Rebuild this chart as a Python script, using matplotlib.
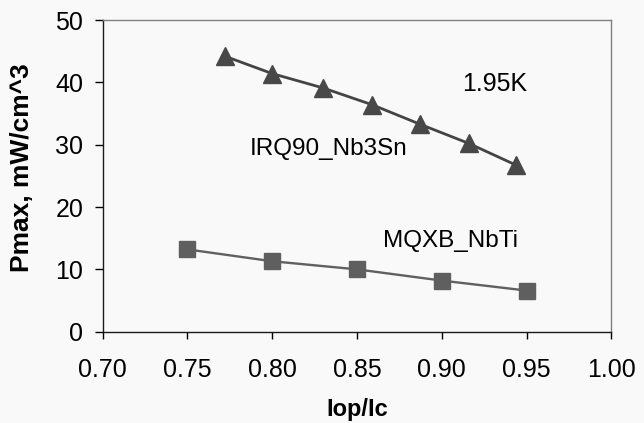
import matplotlib
matplotlib.use("Agg")
import matplotlib.pyplot as plt

plt.rcParams['font.family'] = ['Liberation Sans', 'DejaVu Sans']

irq_x = [0.772, 0.800, 0.830, 0.859, 0.887, 0.916, 0.944]
irq_y = [44.2, 41.4, 39.1, 36.4, 33.3, 30.2, 26.7]
mqxb_x = [0.75, 0.80, 0.85, 0.90, 0.95]
mqxb_y = [13.2, 11.3, 10.0, 8.2, 6.6]
xticks = [0.70, 0.75, 0.80, 0.85, 0.90, 0.95, 1.00]
yticks = [0, 10, 20, 30, 40, 50]

bg = '#f9f9f9'
L, R, T, B = 102.7, 611.3, 20.0, 331.7
fig = plt.figure(figsize=(6.44, 4.23), dpi=100, facecolor=bg)
ax = fig.add_axes([L/644, 1 - B/423, (R-L)/644, (B-T)/423])
ax.set_facecolor(bg)

ax.plot(irq_x, irq_y, color='#444444', lw=2.0, marker='^', ms=13,
        markerfacecolor='#484848', markeredgecolor='#484848', zorder=3)
ax.plot(mqxb_x, mqxb_y, color='#606060', lw=1.7, marker='s', ms=11.5,
        markerfacecolor='#5f5f5f', markeredgecolor='#5f5f5f', zorder=3)

ax.set_xlim(0.70, 1.00)
ax.set_ylim(0, 50)
ax.set_xticks(xticks)
ax.set_xticklabels([f"{v:.2f}" for v in xticks])
ax.set_yticks(yticks)
ax.tick_params(axis='x', direction='out', length=5.2, width=1, labelsize=18,
               colors='black', pad=13.5)
ax.tick_params(axis='y', direction='out', length=5.5, width=1, labelsize=18,
               colors='black', pad=8.5)
for s in ['left', 'bottom']:
    ax.spines[s].set_color('#1a1a1a')
    ax.spines[s].set_linewidth(1.0)
for s in ['top', 'right']:
    ax.spines[s].set_color('#808080')
    ax.spines[s].set_linewidth(1.0)

fig.text(357/644, 1 - 416/423, 'Iop/Ic', fontsize=17, fontweight='bold',
         ha='center', va='baseline')
fig.text(22/644, 1 - 168/423, 'Pmax, mW/cm^3', fontsize=19, fontweight='bold',
         ha='center', va='center', rotation=90)

ax.text(0.931, (B - 90.7) / 6.234, '1.95K', fontsize=18, ha='center', va='baseline')
ax.text(0.833, (B - 155) / 6.234, 'IRQ90_Nb3Sn', fontsize=17.5, ha='center', va='baseline')
ax.text(0.905, (B - 246.7) / 6.234, 'MQXB_NbTi', fontsize=17.5, ha='center', va='baseline')

fig.savefig('out.png', dpi=100, facecolor=bg)
